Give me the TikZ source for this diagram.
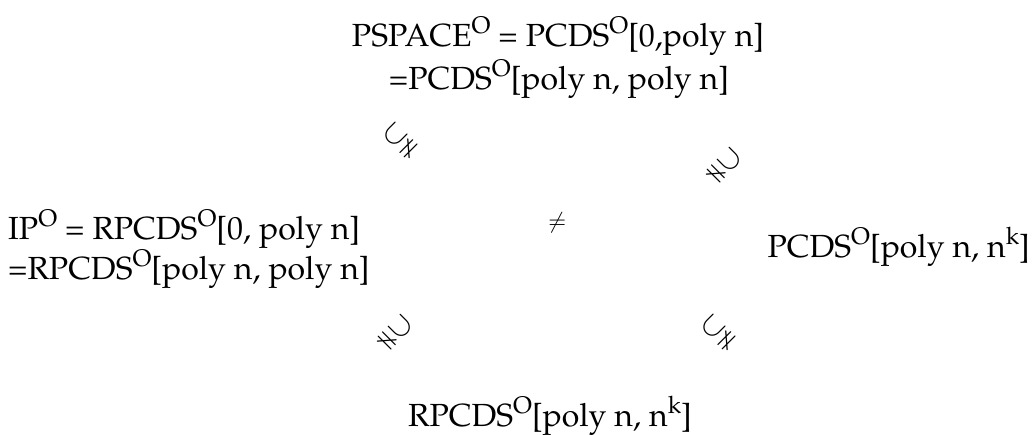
\documentclass[tikz,border=0pt]{standalone}
\usepackage[T1]{fontenc}
\usepackage{amssymb}
\usepackage{mathpazo}
\newcommand{\supO}[1]{\raisebox{0.42em}{\fontsize{24}{28}\selectfont #1}}
\begin{document}
\begin{tikzpicture}[x=1pt,y=-1pt,
  txt/.style={inner sep=0pt,font=\fontsize{32}{38}\selectfont},
  rel/.style={inner sep=0pt,font=\fontsize{30}{36}\selectfont}]
\useasboundingbox (0,0) rectangle (1034,435);
\node[txt,anchor=base] (top1) at (558,47) {PSPACE\supO{O} = PCDS\supO{O}[0,poly n]};
\node[txt,anchor=base] (top2) at (559,90) {=PCDS\supO{O}[poly n, poly n]};
\node[txt,anchor=base west] (left1) at (8,240) {IP\supO{O} = RPCDS\supO{O}[0, poly n]};
\node[txt,anchor=base west] (left2) at (8,280) {=RPCDS\supO{O}[poly n, poly n]};
\node[txt,anchor=base east] (right) at (1030,258) {PCDS\supO{O}[poly n, n\supO{k}]};
\node[txt,anchor=base] (bottom) at (550,427) {RPCDS\supO{O}[poly n, n\supO{k}]};
\node[rel,font=\fontsize{22}{26}\selectfont] (neq) at (557,223) {$\neq$};
\node[rel,rotate=45] (tl) at (400,140) {$\subsetneqq$};
\node[rel,rotate=-45] (tr) at (725,165) {$\supsetneqq$};
\node[rel,rotate=-45] (bl) at (396,332) {$\supsetneqq$};
\node[rel,rotate=45] (br) at (718,332) {$\subsetneqq$};
\end{tikzpicture}
\end{document}
